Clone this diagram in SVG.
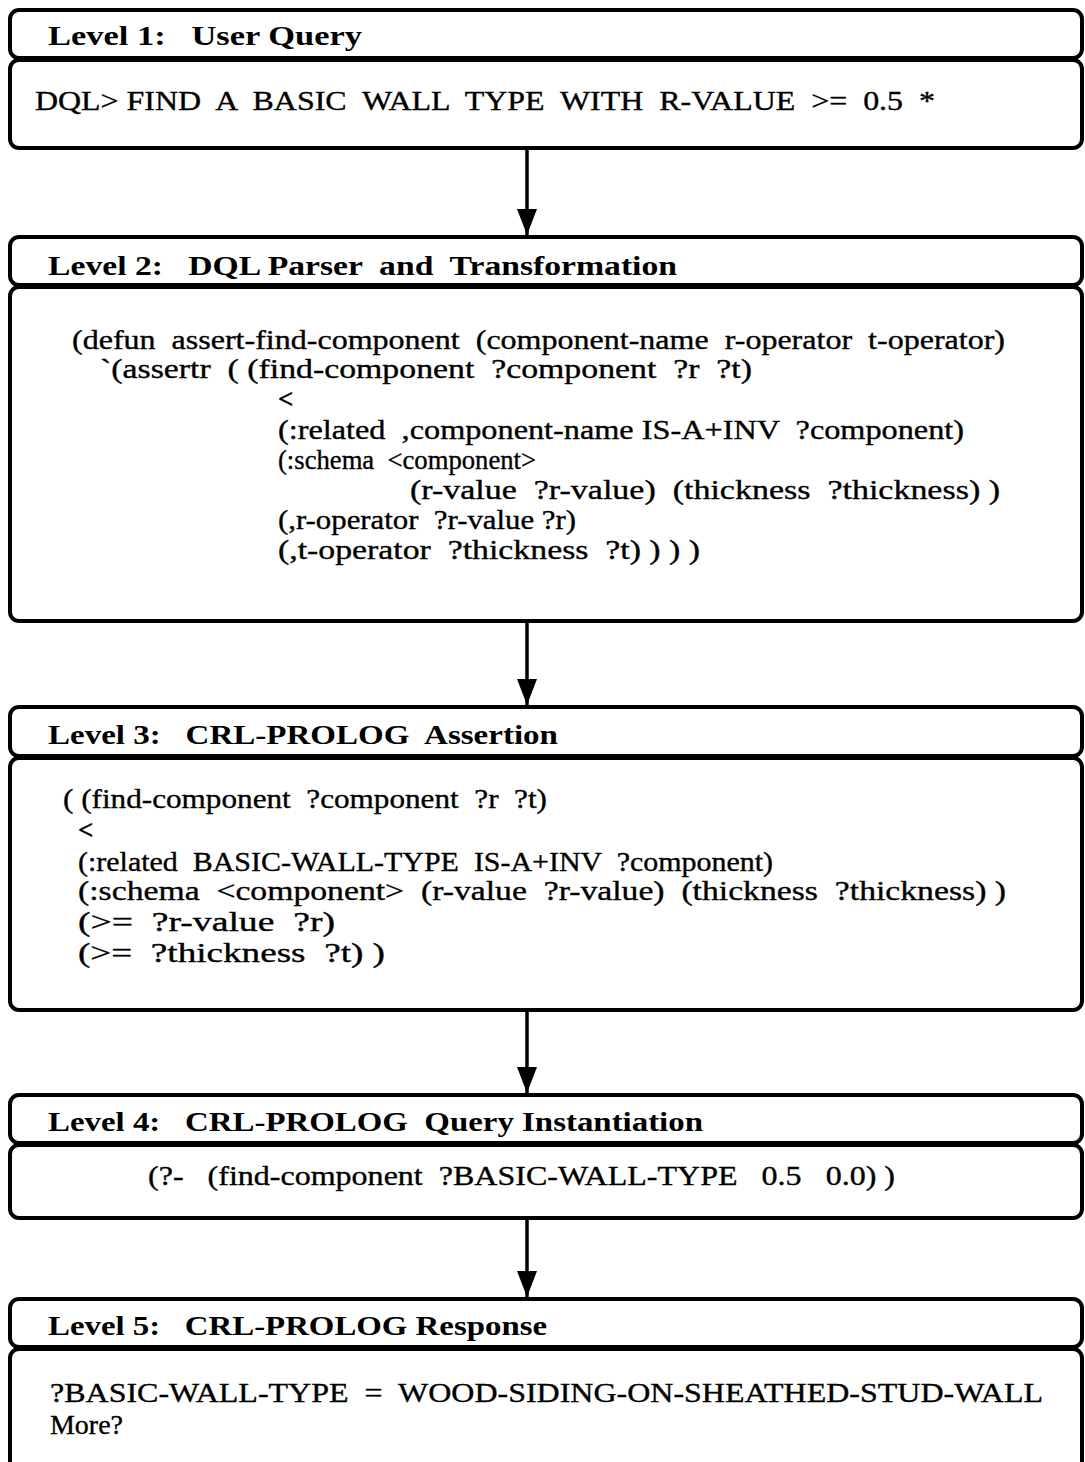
<svg xmlns="http://www.w3.org/2000/svg" width="1085" height="1462" viewBox="0 0 1085 1462">
  <style>
    .frame { fill: #ffffff; stroke: #000000; stroke-width: 4; }
    .head { font-family: "Liberation Serif", "Times New Roman", serif; font-weight: bold; font-size: 27px; fill: #000000; white-space: pre; }
    .body { font-family: "Liberation Serif", "Times New Roman", serif; font-size: 27px; fill: #000000; stroke: #000000; stroke-width: 0.35; white-space: pre; }
    .link { stroke: #000000; stroke-width: 3.5; fill: none; }
  </style>
  <defs>
    <!-- arrowhead drawn along +x so orient="auto" points it along the line -->
    <marker id="arrowhead" viewBox="0 0 26 20" refX="26" refY="10" markerWidth="26" markerHeight="20" markerUnits="userSpaceOnUse" orient="auto">
      <path d="M0,0 L26,10 L0,20 Z" fill="#000000"/>
    </marker>
  </defs>
  <rect x="0" y="0" width="1085" height="1462" fill="#ffffff"/>

  <!-- Level 1 -->
  <g id="level1">
    <rect class="frame" x="10" y="10" width="1072" height="48" rx="9"/>
    <rect class="frame" x="10" y="60" width="1072" height="88" rx="9"/>
    <text class="head" x="48" y="45" textLength="314" lengthAdjust="spacingAndGlyphs">Level 1:   User Query</text>
    <text class="body" x="35" y="110" textLength="900" lengthAdjust="spacingAndGlyphs">DQL&gt; FIND  A  BASIC  WALL  TYPE  WITH  R-VALUE  &gt;=  0.5  *</text>
  </g>

  <!-- Level 2 -->
  <g id="level2">
    <rect class="frame" x="10" y="237" width="1072" height="48" rx="9"/>
    <rect class="frame" x="10" y="287" width="1072" height="334" rx="9"/>
    <text class="head" x="48" y="275" textLength="629" lengthAdjust="spacingAndGlyphs">Level 2:   DQL Parser  and  Transformation</text>
    <text class="body" x="72" y="349" textLength="933" lengthAdjust="spacingAndGlyphs">(defun  assert-find-component  (component-name  r-operator  t-operator)</text>
    <text class="body" x="100" y="378" textLength="652" lengthAdjust="spacingAndGlyphs">`(assertr  ( (find-component  ?component  ?r  ?t)</text>
    <text class="body" x="278" y="408" font-weight="bold">&lt;</text>
    <text class="body" x="278" y="439" textLength="686" lengthAdjust="spacingAndGlyphs">(:related  ,component-name IS-A+INV  ?component)</text>
    <text class="body" x="278" y="469" textLength="258" lengthAdjust="spacingAndGlyphs">(:schema  &lt;component&gt;</text>
    <text class="body" x="410" y="499" textLength="590" lengthAdjust="spacingAndGlyphs">(r-value  ?r-value)  (thickness  ?thickness) )</text>
    <text class="body" x="278" y="529" textLength="298" lengthAdjust="spacingAndGlyphs">(,r-operator  ?r-value ?r)</text>
    <text class="body" x="278" y="559" textLength="422" lengthAdjust="spacingAndGlyphs">(,t-operator  ?thickness  ?t) ) ) )</text>
  </g>

  <!-- Level 3 -->
  <g id="level3">
    <rect class="frame" x="10" y="707" width="1072" height="49" rx="9"/>
    <rect class="frame" x="10" y="758" width="1072" height="252" rx="9"/>
    <text class="head" x="48" y="744" textLength="510" lengthAdjust="spacingAndGlyphs">Level 3:   CRL-PROLOG  Assertion</text>
    <text class="body" x="63" y="808" textLength="484" lengthAdjust="spacingAndGlyphs">( (find-component  ?component  ?r  ?t)</text>
    <text class="body" x="78" y="839" font-weight="bold">&lt;</text>
    <text class="body" x="78" y="871" textLength="695" lengthAdjust="spacingAndGlyphs">(:related  BASIC-WALL-TYPE  IS-A+INV  ?component)</text>
    <text class="body" x="78" y="900" textLength="928" lengthAdjust="spacingAndGlyphs">(:schema  &lt;component&gt;  (r-value  ?r-value)  (thickness  ?thickness) )</text>
    <text class="body" x="78" y="931" textLength="257" lengthAdjust="spacingAndGlyphs">(&gt;=  ?r-value  ?r)</text>
    <text class="body" x="78" y="962" textLength="307" lengthAdjust="spacingAndGlyphs">(&gt;=  ?thickness  ?t) )</text>
  </g>

  <!-- Level 4 -->
  <g id="level4">
    <rect class="frame" x="10" y="1095" width="1072" height="48" rx="9"/>
    <rect class="frame" x="10" y="1145" width="1072" height="73" rx="9"/>
    <text class="head" x="48" y="1131" textLength="655" lengthAdjust="spacingAndGlyphs">Level 4:   CRL-PROLOG  Query Instantiation</text>
    <text class="body" x="148" y="1185" textLength="747" lengthAdjust="spacingAndGlyphs">(?-   (find-component  ?BASIC-WALL-TYPE   0.5   0.0) )</text>
  </g>

  <!-- Level 5 (frame runs off the bottom edge) -->
  <g id="level5">
    <rect class="frame" x="10" y="1299" width="1072" height="48" rx="9"/>
    <rect class="frame" x="10" y="1349" width="1072" height="140" rx="9"/>
    <text class="head" x="48" y="1335" textLength="499" lengthAdjust="spacingAndGlyphs">Level 5:   CRL-PROLOG Response</text>
    <text class="body" x="50" y="1402" textLength="993" lengthAdjust="spacingAndGlyphs">?BASIC-WALL-TYPE  =  WOOD-SIDING-ON-SHEATHED-STUD-WALL</text>
    <text class="body" x="50" y="1434" textLength="73" lengthAdjust="spacingAndGlyphs">More?</text>
  </g>

  <!-- Connectors between levels -->
  <g id="connectors">
    <line class="link" x1="527" y1="150" x2="527" y2="235" marker-end="url(#arrowhead)"/>
    <line class="link" x1="527" y1="623" x2="527" y2="705" marker-end="url(#arrowhead)"/>
    <line class="link" x1="527" y1="1012" x2="527" y2="1093" marker-end="url(#arrowhead)"/>
    <line class="link" x1="527" y1="1220" x2="527" y2="1297" marker-end="url(#arrowhead)"/>
  </g>
</svg>
